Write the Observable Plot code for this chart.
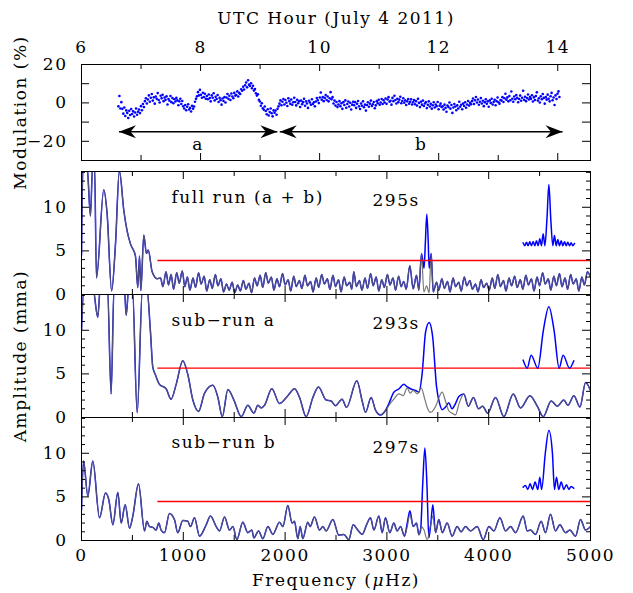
<!DOCTYPE html>
<html><head><meta charset="utf-8">
<script src="https://cdn.jsdelivr.net/npm/d3@7"></script>
<script src="https://cdn.jsdelivr.net/npm/@observablehq/plot@0.6"></script>
<style>
html,body{margin:0;padding:0;background:#fff;}
#chart{position:relative;width:633px;height:593px;overflow:hidden;background:#fff;}
#chart svg{position:absolute;left:0;}
#chart svg text{letter-spacing:1.5px;}
</style></head><body><div id="chart"></div>
<script>
// ---------------- DATA ----------------
const topTitle = "UTC Hour (July 4 2011)";
const modLabel = "Modulation (%)";
const ampLabel = "Amplitude (mma)";
const freqTitle = "Frequency (μHz)";
const hourLabels = [6, 8, 10, 12, 14];
const hourMajor = [8, 10, 12, 14];
const hourMinor = [7, 9, 11, 13];
const modLabels = [-20, 0, 20];
const modTicks = [-20, -10, 0, 10];
const freqLabels = [0, 1000, 2000, 3000, 4000, 5000];
const freqMajor = [1000, 2000, 3000, 4000];
const freqMinor = [500, 1500, 2500, 3500, 4500];
const ampLabels = [0, 5, 10];
const ampMajor = [5, 10];
const ampMinor = [1, 2, 3, 4, 6, 7, 8, 9, 11, 12, 13, 14];

// light curve (even cadence)
const lcStart = 6.62;
const lcStep = 0.0165;
const lcValues = [
-1.8,3.6,-2.9,0.4,-3.1,-5.6,-2.4,-6.8,-3.9,-5.2,-7.9,-4.1,-6.3,-3.2,-5.8,-4.4,-7.1,-5.0,-2.9,-6.2,-4.6,-3.5,-5.3,-1.7,-3.8,-0.6,-2.2,0.9,2.4,-0.3,
1.8,3.9,0.6,2.7,4.6,1.2,2.9,-0.4,3.3,2.1,5.1,1.5,0.2,3.7,2.4,4.2,0.9,2.8,1.6,3.4,-0.8,2.0,1.1,3.6,0.4,2.5,-0.2,1.9,0.7,2.6,
1.3,-1.2,0.8,2.2,-0.6,1.0,-1.8,-2.9,-1.1,-3.8,-2.0,-0.7,-3.4,-2.6,-4.5,-1.5,-3.0,-1.9,0.6,2.1,3.4,5.6,3.9,6.8,4.2,2.7,5.3,3.1,4.8,2.2,
3.6,1.9,4.4,2.5,0.8,3.9,2.7,5.0,1.3,3.2,2.0,4.1,0.5,2.6,1.4,-0.9,2.3,1.0,3.0,0.2,2.8,4.6,2.1,3.7,1.5,4.9,3.3,2.4,5.2,3.8,
4.1,6.0,3.3,5.2,4.6,7.1,6.3,8.4,7.0,9.2,10.6,8.1,11.8,9.5,8.8,10.2,7.6,8.9,6.4,7.2,5.0,3.8,4.5,1.6,0.7,-1.5,-0.2,-2.8,-3.6,-1.9,
-4.2,-5.9,-3.3,-6.6,-4.8,-2.9,-5.4,-7.0,-3.9,-5.1,-4.0,-6.2,-3.1,-1.8,-0.4,1.3,-1.2,0.6,2.0,-0.8,1.5,0.1,-1.6,2.4,0.9,-0.5,1.8,-1.0,0.3,2.7,
0.5,-1.3,1.6,-0.2,0.9,-2.1,1.2,-0.7,0.4,2.2,-1.5,0.8,-0.3,-2.6,1.1,0.2,-1.0,1.9,-0.6,0.3,-1.8,0.7,2.5,1.4,-0.1,2.8,5.4,1.7,3.1,0.9,
2.6,4.1,1.5,3.3,0.8,2.4,5.6,1.9,3.0,-0.3,1.2,-1.4,0.5,-2.2,-0.8,0.9,-1.7,-0.2,-3.1,0.4,-1.1,1.3,-2.5,-0.6,0.7,-1.9,0.1,-3.4,-0.9,0.6,
-1.2,0.4,-2.6,-0.5,1.0,-1.8,-3.2,-0.3,-1.5,0.8,-2.3,-0.9,-4.0,-1.1,0.3,-2.0,-0.4,1.2,-1.6,-0.7,0.5,-2.8,-1.3,0.9,-0.2,1.6,-1.0,0.2,2.0,-0.6,
1.4,0.2,2.3,-0.5,1.8,3.0,0.6,1.1,-0.9,2.6,0.9,3.7,1.5,-0.3,2.1,0.4,1.7,3.2,-0.2,1.0,2.4,0.1,1.3,-1.1,0.8,2.0,-0.4,0.6,1.9,-0.8,
0.3,1.5,-0.7,0.9,-1.4,2.1,0.0,-2.2,0.6,-0.9,1.2,-1.6,-0.3,0.4,-2.7,-1.0,0.8,-1.9,-0.5,-3.0,-1.2,0.3,-2.4,-0.8,-1.7,0.5,-3.3,-1.5,-0.4,-2.1,
-1.8,-3.5,-0.9,-2.6,-4.6,-1.4,-2.2,0.2,-3.0,-1.1,-5.2,-2.4,-0.6,-1.9,-3.8,-1.3,-2.9,0.6,-2.0,-1.0,-3.3,-0.4,-1.6,0.3,-2.5,-0.8,1.0,-1.4,0.1,-0.7,
0.9,2.3,-0.6,1.4,3.1,0.2,1.8,-1.0,0.6,2.5,-0.3,1.1,-1.7,0.4,1.9,-0.5,0.8,-2.0,1.3,0.0,2.2,-0.8,0.5,1.6,-1.2,0.9,2.8,0.3,-0.4,1.5,
1.2,3.0,0.5,2.4,4.8,1.7,2.9,0.8,3.6,1.4,5.9,2.2,0.6,3.3,1.9,4.1,2.6,0.3,2.0,3.8,1.1,2.7,6.3,1.6,3.2,0.9,2.5,4.4,1.8,3.0,
2.1,4.0,0.7,2.9,1.5,3.6,5.5,1.2,2.4,0.2,3.4,1.9,4.6,2.6,-0.4,3.0,1.7,4.3,2.2,0.8,3.5,5.2,1.4,2.8,-1.1,3.9,2.0,4.8,6.0,3.1
];
const arrowRuns = [{label: "a", from: 6.63, to: 9.29}, {label: "b", from: 9.33, to: 14.08}];
const arrowLevel = -15;
const arrowLabelLevel = -21.7;

// amplitude spectra [frequency µHz, amplitude mma]
const fullSpec = [
[0,4.5],[15,15],[35,15],[60,14],[88,9.0],[110,15],[128,15],[147,1.9],[219,12.0],[252,9.2],[296,0.4],[334,5.8],[372,14.2],[416,9.6],[448,7.3],[481,5.8],[530,4.4],[553,0.8],[570,4.4],[583,0.45],[612,6.8],[638,4.7],[656,5.1],[694,2.6],[743,1.8],
[776,1.9],[800,0.9],[830,2.6],[855,1.1],[880,2.3],[905,0.6],[935,2.5],[960,1.3],[990,2.7],[1015,0.9],[1040,2.0],[1065,0.5],[1095,1.9],[1120,0.8],[1150,2.5],[1175,1.2],[1205,2.1],[1230,0.4],[1260,1.7],[1285,0.7],[1315,2.3],[1340,1.0],[1370,1.8],[1395,0.3],[1425,1.2],[1450,0.5],[1480,1.4],[1505,0.2],[1535,1.1],[1560,0.4],[1590,1.6],[1615,0.6],[1645,1.3],[1670,0.2],[1700,1.9],[1725,1.0],[1755,2.2],[1780,0.8],[1810,2.5],[1835,1.3],[1865,2.0],[1890,0.5],[1920,1.8],[1945,0.9],[1975,2.4],[2000,1.1],[2030,1.7],[2055,0.4],[2085,2.1],[2110,0.9],[2140,1.6],[2165,0.7],[2195,2.2],[2220,1.0],[2250,1.5],[2275,0.3],[2305,1.9],[2330,0.8],[2360,2.3],[2385,1.2],[2415,1.8],[2440,0.6],[2470,2.2],[2495,0.9],[2525,1.7],[2550,0.3],[2580,2.0],[2605,1.0],[2635,1.4],[2655,0.6],[2675,2.6],[2700,0.9],[2730,1.6],[2755,0.5],[2785,1.9],[2810,0.7],[2840,2.4],[2865,1.0],[2895,2.0],[2920,0.4],[2950,1.7],[2975,0.8],[3005,2.3],[3030,1.1],[3060,1.9],[3085,0.5],[3115,2.1],[3140,0.9],[3165,1.5],[3190,0.6],[3225,3.3],[3258,0.65],[3291,2.2],[3314,0.5],[3340,4.7],
[3435,4.7],[3455,0.3],[3488,1.4],[3510,0.5],[3540,1.8],[3565,0.7],[3595,1.5],[3620,0.3],[3650,1.9],[3675,0.9],[3705,1.4],[3730,0.4],[3760,2.0],[3785,1.0],[3815,1.6],[3840,0.6],[3870,1.2],[3895,0.3],[3925,1.7],[3950,0.8],[3980,1.3],[4005,0.5],[4035,1.9],[4060,0.7],[4090,2.3],[4115,0.9],[4145,1.6],[4170,0.4],[4200,1.9],[4225,1.0],[4255,2.1],[4280,0.8],[4310,1.7],[4335,0.6],[4365,2.2],[4390,1.1],[4420,1.8],[4445,0.4],[4475,2.0],[4500,1.0],[4530,2.5],[4555,1.2],[4585,1.8],[4610,0.5],[4640,2.1],[4665,1.0],[4695,2.4],[4720,0.9],[4750,1.9],[4775,0.6],[4805,2.3],[4830,1.2],[4860,1.8],[4885,0.4],[4915,2.0],[4940,1.1],[4970,2.6],[5000,2.0]
];
const fullPeakRange = [3340, 3435];
const fullBluePeak = [[3365,3.0],[3378,6.0],[3392,9.2],[3406,6.0],[3415,3.0]];
const fullGrayPeak = [[3363,0.3],[3390,1.0],[3415,0.2]];
const fullWindow = [[4338,5.93],[4355,5.6],[4371,6.0],[4387,5.6],[4404,6.04],[4420,5.6],[4437,6.07],[4453,5.6],[4469,6.15],[4486,5.6],[4502,6.38],[4518,5.6],[4535,6.96],[4552,5.6],[4572,8.6],[4591,12.6],[4610,8.6],[4630,5.6],[4646,6.76],[4663,5.6],[4679,6.3],[4695,5.6],[4712,6.15],[4728,5.6],[4745,6.04],[4761,5.6],[4777,6.0],[4794,5.6],[4810,5.93],[4826,5.6],[4843,5.85]];

const subASpec = [
[0,10],[25,15],[110,15],[160,11.5],[185,15],[255,15],[291,2.7],[320,15],[420,15],[439,11.7],[465,15],[500,15],[547,0.55],[600,15],[640,15],[677,9.9],[700,5.8],[726,4.9],[766,3.8],[831,3.3],[880,2.1],[930,3.8],[995,6.5],[1045,4.9],[1094,2.0],[1150,0.7],[1209,2.8],[1291,3.7],[1340,2.3],[1383,0.1],[1438,3.2],[1497,2.0],[1569,0.1],[1634,1.4],[1693,0.5],[1733,1.4],[1765,1.1],[1798,1.4],[1870,3.3],[1945,1.6],[2027,2.5],[2093,3.3],[2142,2.3],[2207,0.1],[2273,2.3],[2328,3.5],[2403,2.0],[2452,1.9],[2495,1.35],[2560,2.1],[2603,1.15],[2705,4.2],[2757,1.9],[2790,0.6],[2845,2.3],[2888,0.85],[2937,0.3],[2986,0.8],
[3756,2.7],[3800,1.3],[3850,2.3],[3900,1.0],[3940,1.3],[3990,0.5],[4067,2.3],[4149,0.1],[4241,2.7],[4313,1.1],[4405,2.5],[4477,1.3],[4536,0.1],[4614,1.9],[4673,1.3],[4738,2.0],[4778,1.4],[4837,2.5],[4896,1.2],[4952,4.0],[5000,3.1]
];
const subAPeakRange = [2986, 3756];
const subABluePeak = [[3020,1.6],[3068,2.9],[3120,3.3],[3166,3.8],[3200,3.5],[3232,3.3],[3281,3.1],[3314,2.9],[3346,5.0],[3380,9.8],[3415,10.9],[3450,9.2],[3487,3.6],[3520,1.5],[3543,0.9],[3576,1.2],[3608,1.7],[3640,1.0],[3674,1.6],[3706,2.4]];
const subAGrayPeak = [[3020,1.4],[3068,2.1],[3117,2.7],[3160,2.5],[3199,3.4],[3228,2.8],[3258,3.1],[3300,2.7],[3337,3.4],[3370,2.2],[3396,1.15],[3428,0.58],[3460,0.9],[3487,1.5],[3515,2.4],[3543,2.9],[3575,1.9],[3608,0.77],[3640,0.5],[3674,0.3],[3706,1.5]];
const subAWindow = [[4338,6.58],[4378,5.66],[4417,7.15],[4482,5.66],[4537,10.0],[4591,12.7],[4642,10.0],[4692,5.66],[4731,7.15],[4794,5.66],[4836,6.5]];

const subBSpec = [
[0,3.5],[20,9.1],[62,5.1],[111,9.1],[177,2.6],[236,5.45],[268,4.7],[308,1.8],[357,5.5],[390,2.0],[429,4.1],[472,1.4],[504,2.8],[560,6.5],[619,1.1],[642,2.2],[668,1.6],[701,1.5],[733,1.2],[759,2.0],[782,1.2],[815,0.9],[864,3.1],[913,2.4],[946,0.9],[995,2.3],[1044,2.2],[1070,1.6],[1110,2.6],[1159,0.5],[1225,1.8],[1267,2.8],[1323,1.6],[1356,1.1],[1405,2.7],[1454,1.2],[1487,1.6],[1526,0.1],[1585,2.1],[1634,0.9],[1673,1.2],[1693,0.3],[1739,1.1],[1781,0.2],[1831,1.6],[1880,0.7],[1945,2.1],[1978,1.6],[2027,4.0],[2069,2.0],[2092,2.2],[2125,0.2],[2148,1.6],[2174,0.2],[2223,2.1],[2246,1.6],[2289,2.7],[2338,1.2],[2371,1.6],[2403,1.1],[2469,2.4],[2528,0.6],[2577,0.7],[2626,0.1],[2669,1.8],[2714,1.2],[2757,0.7],[2800,1.8],[2839,2.6],[2872,1.2],[2921,2.8],[2954,0.9],[2986,2.6],[3029,0.9],[3068,2.0],[3101,1.1],[3134,1.6],[3173,0.5],
[3478,0.9],[3510,2.4],[3545,0.9],[3592,2.0],[3641,0.5],[3690,1.6],[3729,1.0],[3772,1.6],[3821,1.1],[3887,1.6],[3946,0.1],[4002,1.6],[4051,1.1],[4110,2.6],[4166,1.1],[4215,1.6],[4264,0.9],[4339,2.8],[4378,1.1],[4410,1.2],[4460,0.7],[4515,2.2],[4558,0.9],[4607,3.0],[4656,1.1],[4699,1.8],[4755,0.9],[4797,1.2],[4853,0.5],[4902,2.4],[4951,1.2],[5000,1.6]
];
const subBPeakRange = [3173, 3478];
const subBBluePeak = [[3200,2.0],[3226,3.4],[3258,1.6],[3291,2.0],[3314,0.7],[3331,1.2],[3352,6.5],[3373,10.6],[3393,6.5],[3412,0.3],[3432,2.0],[3451,4.1]];
const subBGrayPeak = [[3200,1.6],[3226,3.0],[3258,1.6],[3291,2.0],[3314,0.6],[3340,1.6],[3365,1.2],[3395,0.1],[3425,1.5],[3451,2.8]];
const subBWindow = [[4338,6.1],[4361,6.3],[4384,5.85],[4407,6.5],[4430,5.85],[4456,6.7],[4482,5.85],[4502,7.26],[4520,5.85],[4556,10.0],[4591,12.6],[4626,10.0],[4646,5.85],[4666,7.26],[4688,5.85],[4712,6.7],[4738,5.85],[4764,6.4],[4787,5.85],[4810,6.2],[4836,6.0]];

const panelNames = ["full run (a + b)", "sub\u2212run a", "sub\u2212run b"];
const panelPeriods = ["295s", "293s", "297s"];
const thresholds = [3.9, 5.66, 4.47];
const redStart = 750;
const freqDomain = [0, 5000];
const ampDomain = [0, 14.1];

// ---------------- DRAWING ----------------
const W = 633, ML = 81, MR = 43, FW = W - ML - MR;
const fmt = d3.format("d");
const baseStyle = {fontFamily: "DejaVu Serif", fontSize: "17px", background: "transparent", overflow: "visible", color: "#000"};
const chart = document.getElementById("chart");
const BLUE = "#0000ff", GRAY = "#606060", RED = "#ff0000";

function ticksY(vals, len) {
  return [
    Plot.tickY(vals, {y: d => d, insetRight: FW - len, stroke: "#000"}),
    Plot.tickY(vals, {y: d => d, insetLeft: FW - len, stroke: "#000"})
  ];
}
function ticksX(vals, len, FH) {
  return [
    Plot.tickX(vals, {x: d => d, insetBottom: FH - len, stroke: "#000"}),
    Plot.tickX(vals, {x: d => d, insetTop: FH - len, stroke: "#000"})
  ];
}
function place(svg, top) { svg.style.top = top + "px"; chart.appendChild(svg); }
const txt = {textAnchor: "middle", lineAnchor: "middle", fill: "#000", text: d => d};

// ---- top panel: light curve ----
(function () {
  const H = 166, MT = 64, MB = 6, FH = H - MT - MB;
  const heads = arrowRuns.flatMap(r => [{x: r.from, rot: 180}, {x: r.to, rot: 0}]);
  const headSymbol = {draw(ctx) { ctx.moveTo(0, 0); ctx.lineTo(-17, -6.5); ctx.lineTo(-11.5, 0); ctx.lineTo(-17, 6.5); ctx.closePath(); }};
  const svg = Plot.plot({
    width: W, height: H, marginLeft: ML, marginRight: MR, marginTop: MT, marginBottom: MB,
    style: baseStyle,
    x: {domain: [6, 14.55]},
    y: {domain: [-30, 20]},
    marks: [
      Plot.dot(lcValues, {x: (d, i) => lcStart + i * lcStep, y: d => d, r: 1.3, fill: BLUE, stroke: null}),
      Plot.link(arrowRuns, {x1: "from", x2: "to", y1: arrowLevel, y2: arrowLevel, stroke: "#000", strokeWidth: 1.4}),
      Plot.dot(heads, {x: "x", y: arrowLevel, rotate: "rot", symbol: headSymbol, fill: "#000", stroke: null}),
      Plot.text(arrowRuns, {...txt, x: r => (r.from + r.to) / 2, y: arrowLabelLevel, text: "label"}),
      Plot.frame({stroke: "#000"}),
      ...ticksX(hourMajor, 7, FH),
      ...ticksX(hourMinor, 5, FH),
      ...ticksY(modTicks, 8),
      Plot.axisX(hourLabels, {anchor: "top", tickSize: 0, tickPadding: 12, tickFormat: fmt, label: null}),
      Plot.axisY(modLabels, {anchor: "left", tickSize: 0, tickPadding: 14, tickFormat: fmt, label: null}),
      Plot.text([topTitle], {...txt, frameAnchor: "top", dy: -46}),
      Plot.text([modLabel], {...txt, frameAnchor: "left", dx: -61, rotate: -90})
    ]
  });
  place(svg, 0);
})();

// ---- spectrum panels ----
function spectrumPanel(cfg) {
  const FH = cfg.height - cfg.mt - cfg.mb;
  const inside = d => d[0] > cfg.range[0] && d[0] < cfg.range[1];
  const outer = cfg.spec.filter(d => !inside(d));
  const blue = outer.concat(cfg.bluePeak).sort((a, b) => a[0] - b[0]);
  const gray = outer.concat(cfg.grayPeak).sort((a, b) => a[0] - b[0]);
  const marks = [
    Plot.line(blue, {x: d => d[0], y: d => d[1], stroke: BLUE, strokeWidth: 1.5, curve: "monotone-x", clip: true}),
    Plot.line(gray, {x: d => d[0], y: d => d[1], stroke: GRAY, strokeWidth: 1.2, strokeOpacity: 0.85, curve: "monotone-x", clip: true}),
    Plot.ruleY([cfg.thr], {y: d => d, x1: redStart, x2: freqDomain[1], stroke: RED, strokeWidth: 1.4}),
    Plot.line(cfg.window, {x: d => d[0], y: d => d[1], stroke: BLUE, strokeWidth: 1.5, curve: "monotone-x", clip: true}),
    Plot.frame({stroke: "#000"}),
    ...ticksY(ampMajor, 8),
    ...ticksY(ampMinor, 4),
    ...ticksX(freqMajor, 8, FH),
    ...ticksX(freqMinor, 5, FH),
    Plot.axisY(ampLabels, {anchor: "left", tickSize: 0, tickPadding: 14, tickFormat: fmt, label: null}),
    Plot.text([cfg.name], {...txt, frameAnchor: "top-left", dx: 90, dy: cfg.nameDy, textAnchor: "start"}),
    Plot.text([cfg.period], {...txt, frameAnchor: "top-left", dx: 291, dy: cfg.periodDy, textAnchor: "start"})
  ];
  if (cfg.ylabel) marks.push(Plot.text([cfg.ylabel], {...txt, frameAnchor: "left", dx: -61, rotate: -90}));
  if (cfg.bottom) {
    marks.push(Plot.axisX(freqLabels, {anchor: "bottom", tickSize: 0, tickPadding: 8, tickFormat: fmt, label: null}));
    marks.push(Plot.text([freqTitle], {...txt, frameAnchor: "bottom", dy: 40}));
  }
  const svg = Plot.plot({
    width: W, height: cfg.height, marginLeft: ML, marginRight: MR, marginTop: cfg.mt, marginBottom: cfg.mb,
    style: baseStyle,
    x: {domain: freqDomain, axis: cfg.bottom ? undefined : null},
    y: {domain: ampDomain},
    marks
  });
  place(svg, cfg.top);
  return svg;
}

spectrumPanel({top: 166, height: 130, mt: 5, mb: 2, spec: fullSpec, range: fullPeakRange, bluePeak: fullBluePeak, grayPeak: fullGrayPeak, window: fullWindow, thr: thresholds[0], name: panelNames[0], period: panelPeriods[0], nameDy: 26, periodDy: 29});
spectrumPanel({top: 292, height: 127, mt: 2, mb: 2, spec: subASpec, range: subAPeakRange, bluePeak: subABluePeak, grayPeak: subAGrayPeak, window: subAWindow, thr: thresholds[1], name: panelNames[1], period: panelPeriods[1], nameDy: 26, periodDy: 29, ylabel: ampLabel});
const last = spectrumPanel({top: 415, height: 178, mt: 2, mb: 53, spec: subBSpec, range: subBPeakRange, bluePeak: subBBluePeak, grayPeak: subBGrayPeak, window: subBWindow, thr: thresholds[2], name: panelNames[2], period: panelPeriods[2], nameDy: 25, periodDy: 30, bottom: true});

// italic mu in the frequency label
last.querySelectorAll("text").forEach(t => {
  if (t.textContent === freqTitle) {
    const parts = freqTitle.split("μ");
    t.textContent = "";
    const ns = "http://www.w3.org/2000/svg";
    const a = document.createElementNS(ns, "tspan"); a.textContent = parts[0];
    const m = document.createElementNS(ns, "tspan"); m.textContent = "μ"; m.setAttribute("font-style", "italic");
    const b = document.createElementNS(ns, "tspan"); b.textContent = parts[1];
    t.append(a, m, b);
  }
});
</script></body></html>
